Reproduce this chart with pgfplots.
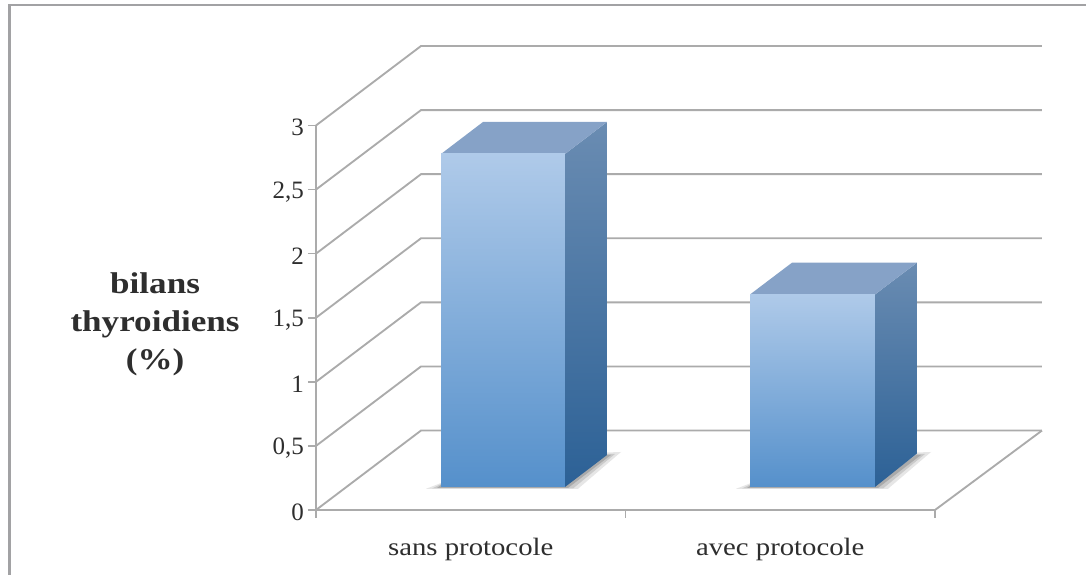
\documentclass[border=0pt]{standalone}
\usepackage{fontspec}
\setmainfont{Liberation Serif}
\newfontfamily\tickfont[FakeStretch=1.15]{Liberation Serif}
\newfontfamily\labfont[FakeStretch=1.17]{Liberation Serif}
\usepackage{pgfplots}
\pgfplotsset{compat=1.18}
\definecolor{gridc}{HTML}{ABABAB}
\definecolor{framec}{HTML}{A2A2A4}
\definecolor{ftop}{HTML}{AFCAE9}
\definecolor{fbot}{HTML}{5590CB}
\definecolor{stop}{HTML}{6A8CB2}
\definecolor{sbot}{HTML}{2C6196}
\definecolor{ttop}{HTML}{86A2C7}
\definecolor{txt}{HTML}{2E2E2E}
\begin{document}
\begin{tikzpicture}
\useasboundingbox (0,0) rectangle (814.5pt,431.25pt);
% chart frame and floor shadows, in pixel units of the picture
\begin{scope}[x=0.75pt,y=-0.75pt,yshift=431.25pt]
\fill[framec] (8,4) rectangle (1086,6.2);
\fill[framec] (8,4) rectangle (10.5,575);
\foreach \dx in {0,310}{
  \fill[black!70,opacity=0.14] (426+\dx,488.8) -- (441+\dx,483) -- (565+\dx,483) -- (606+\dx,452.5) -- (621+\dx,452) -- (578+\dx,488.8) -- cycle;
  \fill[black!70,opacity=0.18] (432+\dx,488.5) -- (441+\dx,484) -- (565+\dx,484) -- (606+\dx,454) -- (615+\dx,454) -- (573+\dx,488.5) -- cycle;
  \fill[black!70,opacity=0.25] (437+\dx,488) -- (441+\dx,485) -- (565+\dx,485) -- (606+\dx,455) -- (611+\dx,455) -- (568+\dx,488) -- cycle;
}
\end{scope}
\begin{axis}[
  at={(237pt,48.75pt)},anchor=south west,
  scale only axis,width=464.25pt,height=288.4pt,
  xmin=-0.5,xmax=1.5,ymin=0,ymax=3,
  clip=false,
  axis x line*=bottom,axis y line*=left,
  axis line style={draw=gridc,line width=1.6pt,-},
  xtick={0,1},xticklabels={sans protocole,avec protocole},
  minor xtick={-0.5,0.5,1.5},
  ytick={0,0.5,1,1.5,2,2.5,3},
  yticklabels={0,{0,5},1,{1,5},2,{2,5},3},
  tick align=outside,
  major tick length=6pt,minor tick length=6pt,
  major x tick style={draw=none},
  minor x tick style={draw=gridc,line width=1.2pt},
  ytick style={draw=gridc,line width=1.2pt},
  x tick label style={font=\tickfont\fontsize{18.75pt}{22pt}\selectfont,text=txt,yshift=-11.5pt},
  y tick label style={font=\fontsize{18.75pt}{22pt}\selectfont,text=txt,xshift=0.5pt,yshift=-1.7pt},
  ylabel={bilans\\thyroidiens\\(\%)},
  every axis y label/.style={at={(axis cs:-1.02,1.45)},anchor=center,align=center,
    font=\labfont\bfseries\fontsize{22.5pt}{28.5pt}\selectfont,text=txt},
]
% gridlines on side and back walls
\foreach \v/\w in {0/0.62,0.5/1.12,1/1.62,1.5/2.12,2/2.62,2.5/3.12,3/3.62}{
  \edef\tmp{\noexpand\addplot[forget plot,draw=gridc,line width=1.4pt] coordinates {(-0.5,\v) (-0.1607,\w) (1.8457,\w)};}
  \tmp
}
\addplot[forget plot,draw=gridc,line width=1.4pt] coordinates {(1.5,0) (1.8457,0.62)};
% bar 1: value 2.6
\addplot[forget plot,draw=none,top color=stop,bottom color=sbot] coordinates {(0.3045,0.1795) (0.4402,0.4291) (0.4402,3.0272) (0.3045,2.7776) (0.3045,0.1795)};
\addplot[forget plot,draw=none,fill=ttop] coordinates {(-0.0961,2.7776) (0.0396,3.0272) (0.4402,3.0272) (0.3045,2.7776) (-0.0961,2.7776)};
\addplot[forget plot,draw=none,top color=ftop,bottom color=fbot] coordinates {(-0.0961,0.1795) (-0.0961,2.7776) (0.3045,2.7776) (0.3045,0.1795) (-0.0961,0.1795)};
% bar 2: value 1.5
\addplot[forget plot,draw=none,top color=stop,bottom color=sbot] coordinates {(1.3061,0.1795) (1.4418,0.4408) (1.4418,1.9295) (1.3061,1.6814) (1.3061,0.1795)};
\addplot[forget plot,draw=none,fill=ttop] coordinates {(0.9023,1.6814) (1.038,1.9295) (1.4418,1.9295) (1.3061,1.6814) (0.9023,1.6814)};
\addplot[forget plot,draw=none,top color=ftop,bottom color=fbot] coordinates {(0.9023,0.1795) (0.9023,1.6814) (1.3061,1.6814) (1.3061,0.1795) (0.9023,0.1795)};
\end{axis}
\end{tikzpicture}
\end{document}
